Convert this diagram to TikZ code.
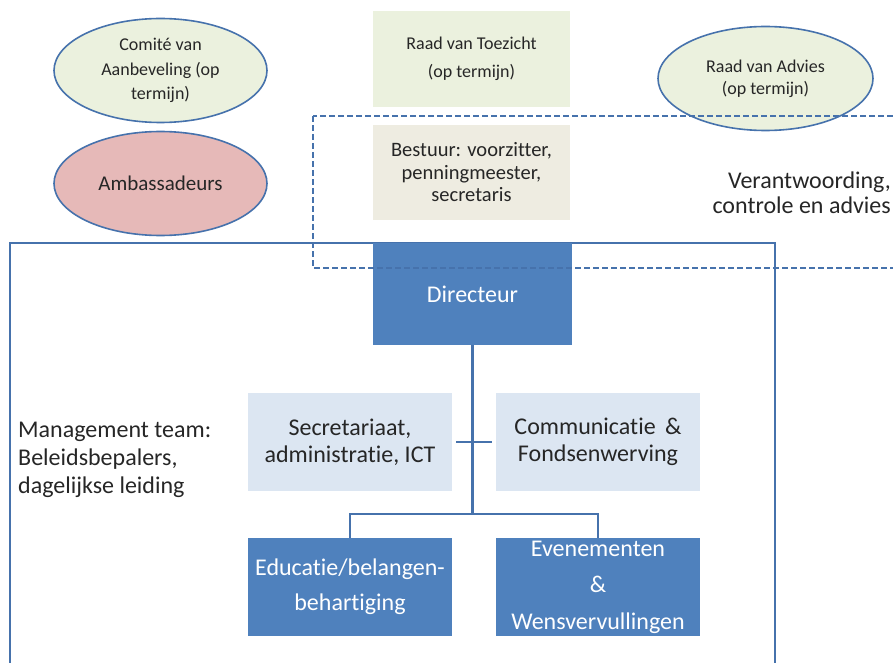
\documentclass[tikz,border=0pt]{standalone}
\usepackage{fontspec}
\setmainfont{Carlito}[Ligatures=NoCommon]
\usetikzlibrary{shapes.geometric}
\definecolor{dirblue}{HTML}{4F81BD}
\definecolor{edgeblue}{HTML}{4672AC}
\definecolor{paleblue}{HTML}{DCE6F2}
\definecolor{palegreen}{HTML}{EBF1DE}
\definecolor{paletan}{HTML}{EEECE1}
\definecolor{pinkfill}{HTML}{E6B9B8}
\definecolor{inkgrey}{HTML}{262626}
\begin{document}
\begin{tikzpicture}
        [x=1pt,y=-1pt,
         every node/.style={text=inkgrey,align=center,inner sep=0pt},
         orgbox/.style={minimum width=204pt,minimum height=98pt,font=\fontsize{24}{27}\selectfont},
         darkbox/.style={orgbox,fill=dirblue,text=white},
         bubble/.style={ellipse,draw=edgeblue,line width=1.6pt,fill=palegreen,
           minimum width=213pt,minimum height=104pt,font=\fontsize{18}{24.5}\selectfont},
         link/.style={draw=edgeblue,line width=2.2pt}]
        \useasboundingbox (0,0) rectangle (893,663);
        \clip (0,0) rectangle (893,663);

        % management frame
        \draw[edgeblue,line width=1.6pt] (10,243) rectangle (775,690);

        \node[bubble] (comite) at (160.5,70.5) {Comit\'e van\\Aanbeveling (op\\termijn)};
        \node[bubble,fill=pinkfill,font=\fontsize{21}{25}\selectfont] (ambas) at (160.5,183.5) {Ambassadeurs};
        \node[bubble,minimum width=215pt,font=\fontsize{18}{22}\selectfont] (advies) at (765.5,78.5) {Raad van Advies\\(op termijn)};

        \node[fill=palegreen,minimum width=197pt,minimum height=96pt,font=\fontsize{18}{28}\selectfont]
          (toezicht) at (471.5,59) {Raad van Toezicht\\(op termijn)};
        \node[fill=paletan,minimum width=197pt,minimum height=95pt,font=\fontsize{20.5}{22.5}\selectfont]
          (bestuur) at (471.5,172.5) {Bestuur: voorzitter,\\penningmeester,\\secretaris};

        \node[darkbox,minimum width=199pt,minimum height=102pt] (dir) at (472.5,294) {Directeur};
        \node[orgbox,fill=paleblue] (secr) at (350,442) {Secretariaat,\\administratie, ICT};
        \node[orgbox,fill=paleblue] (comm) at (598,442) {Communicatie \,\&\\Fondsenwerving};
        \node[darkbox,font=\fontsize{24}{35}\selectfont] (edu) at (350,587) {Educatie/belangen-\\behartiging};
        \node[darkbox,font=\fontsize{24}{36.5}\selectfont] (even) at (598,587) {Evenementen\\\&\\Wensvervullingen};

        \node[anchor=west,align=left,font=\fontsize{24}{28}\selectfont] (mt) at (18,460)
          {Management team:\\Beleidsbepalers,\\dagelijkse leiding};
        \node[anchor=east,align=right,font=\fontsize{24}{25}\selectfont] (verant) at (891,193)
          {Verantwoording,\\controle en advies};

        \coordinate (split) at (472.5,514);
        \draw[link] (dir.south) -- (split);
        \draw[link] (edu.north) |- (split) -| (even.north);
        \draw[link] ([xshift=4pt]secr.east) -- ([xshift=-4pt]comm.west);

        % board frame
        \draw[edgeblue,line width=1.8pt,dash pattern=on 6pt off 3pt] (313,116) rectangle (910,268);
\end{tikzpicture}
\end{document}
